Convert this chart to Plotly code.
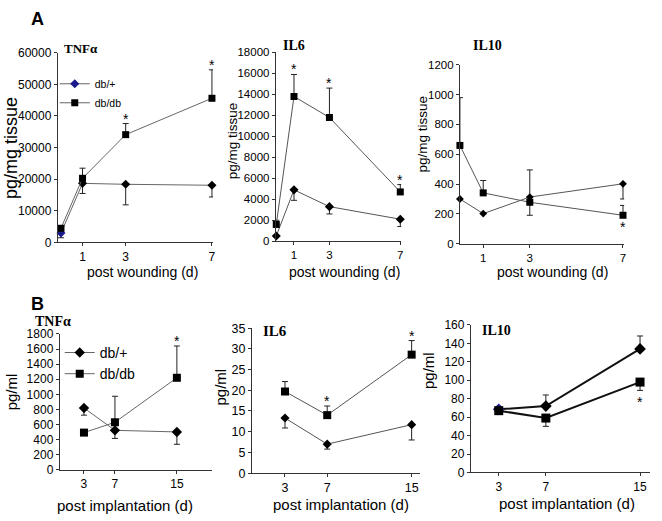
import plotly.graph_objects as go

W, H = 662, 521

# ---------------- data ----------------
days_A = [0, 1, 3, 7]
days_B = [3, 7, 15]

# Panel A (wound tissue, pg/mg tissue)
tnfA_het = [3000, 18700, 18400, 18100]
tnfA_het_em = [1500, 3200, 6500, 3700]
tnfA_db = [4500, 20300, 34100, 45600]
tnfA_db_ep = [800, 3200, 3500, 9000]
tnfA_db_star = ["", "", "up", "up"]

il6A_het = [500, 4900, 3300, 2100]
il6A_het_em = [0, 1000, 700, 700]
il6A_db = [1600, 13800, 11800, 4700]
il6A_db_ep = [400, 2100, 2800, 700]
il6A_db_star = ["", "up", "up", "up"]

il10A_het = [300, 202, 313, 402]
il10A_het_ep = [0, 0, 182, 0]
il10A_het_em = [0, 0, 0, 102]
il10A_db = [659, 341, 278, 191]
il10A_db_ep = [320, 83, 0, 66]
il10A_db_em = [0, 0, 87, 0]
il10A_db_star = ["", "", "", "down"]

# Panel B (implant, pg/ml)
tnfB_het = [820, 524, 503]
tnfB_het_em = [95, 107, 164]
tnfB_db = [494, 631, 1220]
tnfB_db_ep = [0, 344, 421]
tnfB_db_star = ["", "", "up"]

il6B_het = [13.3, 7.0, 11.7]
il6B_het_em = [2.4, 1.2, 3.7]
il6B_db = [19.7, 14.0, 28.6]
il6B_db_ep = [2.4, 2.2, 3.4]
il6B_db_star = ["", "up", "up"]

il10B_het = [68.5, 72, 134]
il10B_het_ep = [0, 12, 14]
il10B_db = [67, 59, 98]
il10B_db_em = [0, 9, 9]
il10B_db_star = ["", "", "down"]

xticks_A = [1, 3, 7]
xticks_B = [3, 7, 15]
names = ["db/+", "db/db"]

# ---------------- helpers ----------------
def px(x):
    return x / W

def py(y):
    return 1 - y / H

def zeros(n):
    return [0] * n

fig = go.Figure()
annotations = []

FONT = "Liberation Sans, Arial, sans-serif"
SERIF = "Liberation Serif, Times New Roman, serif"
AX = "#333333"

panels = [
    dict(x=days_A, het=tnfA_het, hep=zeros(4), hem=tnfA_het_em, db=tnfA_db, dep=tnfA_db_ep, dem=zeros(4),
         star=tnfA_db_star, xd=(58, 214), yd=(47, 242), xr=[-0.15, 7.05], ymax=60000, dt=10000, xt=xticks_A,
         lw=1, lc="#666666", tf=12, legend="legend", hc=["#1a1a8c", "black", "black", "black"], ms=(7, 7)),
    dict(x=days_A, het=il6A_het, hep=zeros(4), hem=il6A_het_em, db=il6A_db, dep=il6A_db_ep, dem=zeros(4),
         star=il6A_db_star, xd=(277, 403), yd=(46.7, 240.7), xr=[-0.03, 7.05], ymax=18000, dt=2000, xt=xticks_A,
         lw=1, lc="#555555", tf=11.5, legend=None, hc=["black"] * 4, ms=(7, 7)),
    dict(x=days_A, het=il10A_het, hep=il10A_het_ep, hem=il10A_het_em, db=il10A_db, dep=il10A_db_ep, dem=il10A_db_em,
         star=il10A_db_star, xd=(462, 627), yd=(59.3, 243.3), xr=[0, 7.05], ymax=1200, dt=200, xt=xticks_A,
         lw=1, lc="#555555", tf=11.5, legend=None, hc=["black"] * 4, ms=(6, 7)),
    dict(x=days_B, het=tnfB_het, hep=zeros(3), hem=tnfB_het_em, db=tnfB_db, dep=tnfB_db_ep, dem=zeros(3),
         star=tnfB_db_star, xd=(60, 213), yd=(336, 475.7), xr=[-0.13, 19.54], ymax=1800, dt=200, xt=xticks_B,
         lw=1, lc="#666666", tf=12, legend="legend2", hc=["black"] * 3, ms=(8, 8)),
    dict(x=days_B, het=il6B_het, hep=zeros(3), hem=il6B_het_em, db=il6B_db, dep=il6B_db_ep, dem=zeros(3),
         star=il6B_db_star, xd=(253, 422), yd=(330, 479), xr=[-0.14, 15.8], ymax=35, dt=5, xt=xticks_B,
         lw=1, lc="#555555", tf=12.5, legend=None, hc=["black"] * 3, ms=(7, 8)),
    dict(x=days_B, het=il10B_het, hep=il10B_het_ep, hem=zeros(3), db=il10B_db, dep=zeros(3), dem=il10B_db_em,
         star=il10B_db_star, xd=(473, 653), yd=(326.7, 478.3), xr=[0.63, 15.85], ymax=160, dt=20, xt=xticks_B,
         lw=2, lc="#111111", tf=12, legend=None, hc=["#1a1a8c", "black", "black"], ms=(9, 9)),
]

layout_axes = {}
for i, p in enumerate(panels):
    n = "" if i == 0 else str(i + 1)
    xa, ya = "x" + n, "y" + n
    common = dict(showline=True, linecolor=AX, linewidth=1, ticks="outside", ticklen=3,
                  tickcolor=AX, showgrid=False, zeroline=False, tickformat="d",
                  tickfont=dict(size=p["tf"], color="black", family=FONT))
    layout_axes["xaxis" + n] = dict(common, domain=[px(p["xd"][0]), px(p["xd"][1])], range=p["xr"],
                                    tickvals=p["xt"], anchor=ya)
    layout_axes["yaxis" + n] = dict(common, domain=[py(p["yd"][1]), py(p["yd"][0])], range=[0, p["ymax"]],
                                    dtick=p["dt"], tick0=0, anchor=xa)

    for k, (vals, ep, em, sym, col, size) in enumerate([
        (p["het"], p["hep"], p["hem"], "diamond", p["hc"], p["ms"][0]),
        (p["db"], p["dep"], p["dem"], "square", "black", p["ms"][1]),
    ]):
        tr = dict(
            x=p["x"], y=vals, xaxis=xa, yaxis=ya, mode="lines+markers", name=names[k],
            line=dict(color=p["lc"], width=p["lw"]),
            marker=dict(symbol=sym, size=size, color=col, line=dict(width=0)),
            error_y=dict(type="data", symmetric=False, array=ep, arrayminus=em,
                         color="#222222", thickness=1, width=3),
            showlegend=p["legend"] is not None,
            cliponaxis=False,
        )
        if p["legend"] is not None:
            tr["legend"] = p["legend"]
        fig.add_trace(go.Scatter(**tr))

    # significance stars
    for j, s in enumerate(p["star"]):
        if s == "up":
            annotations.append(dict(x=p["x"][j], y=p["db"][j] + p["dep"][j], xref=xa, yref=ya,
                                    text="*", showarrow=False, yanchor="bottom", yshift=-5,
                                    font=dict(size=14, color="black", family=FONT)))
        elif s == "down":
            annotations.append(dict(x=p["x"][j], y=p["db"][j] - p["dem"][j], xref=xa, yref=ya,
                                    text="*", showarrow=False, yanchor="top", yshift=-2,
                                    font=dict(size=14, color="black", family=FONT)))

def txt(x, y, t, size, family=FONT, bold=False, angle=0, xanchor="center"):
    annotations.append(dict(x=px(x), y=py(y), xref="paper", yref="paper", text=("<b>%s</b>" % t) if bold else t,
                            showarrow=False, xanchor=xanchor, yanchor="middle", textangle=angle,
                            font=dict(size=size, color="black", family=family)))

# panel letters
txt(38, 12, "A", 18, bold=True)
txt(38, 305, "B", 18, bold=True)

# panel titles
txt(62, 43, "TNFα", 13, family=SERIF, bold=True, xanchor="left")
txt(282, 40, "IL6", 14, family=SERIF, bold=True, xanchor="left")
txt(473, 40, "IL10", 14, family=SERIF, bold=True, xanchor="left")
txt(33, 323, "TNFα", 14, family=SERIF, bold=True, xanchor="left")
txt(262, 333, "IL6", 15, family=SERIF, bold=True, xanchor="left")
txt(482, 332, "IL10", 14, family=SERIF, bold=True, xanchor="left")

# y titles
txt(11, 145, "pg/mg tissue", 18, angle=-90)
txt(233, 137, "pg/mg tissue", 13.5, angle=-90)
txt(424, 131, "pg/mg tissue", 13.5, angle=-90)
txt(11, 395, "pg/ml", 15, angle=-90)
txt(222, 390, "pg/ml", 15, angle=-90)
txt(431, 374, "pg/ml", 15, angle=-90)

# x titles
txt(143, 272, "post wounding (d)", 14)
txt(346, 272, "post wounding (d)", 14)
txt(555, 272, "post wounding (d)", 14)
txt(126, 512, "post implantation (d)", 15)
txt(343, 511, "post implantation (d)", 15)
txt(570, 510, "post implantation (d)", 15)

fig.update_layout(
    width=W, height=H, margin=dict(l=0, r=0, t=0, b=0),
    paper_bgcolor="white", plot_bgcolor="white",
    font=dict(family=FONT, color="black"),
    annotations=annotations,
    legend=dict(x=px(55), y=py(64), xanchor="left", yanchor="top", bgcolor="rgba(0,0,0,0)",
                font=dict(size=10.5, family=FONT), itemwidth=30, tracegroupgap=0),
    legend2=dict(x=px(60), y=py(339), xanchor="left", yanchor="top", bgcolor="rgba(0,0,0,0)",
                 font=dict(size=14, family=FONT), itemwidth=30, tracegroupgap=0),
    **layout_axes,
)

fig.write_html("out.html", config={"displayModeBar": False},
               post_script="document.body.style.margin='0';document.body.style.overflow='hidden';")
